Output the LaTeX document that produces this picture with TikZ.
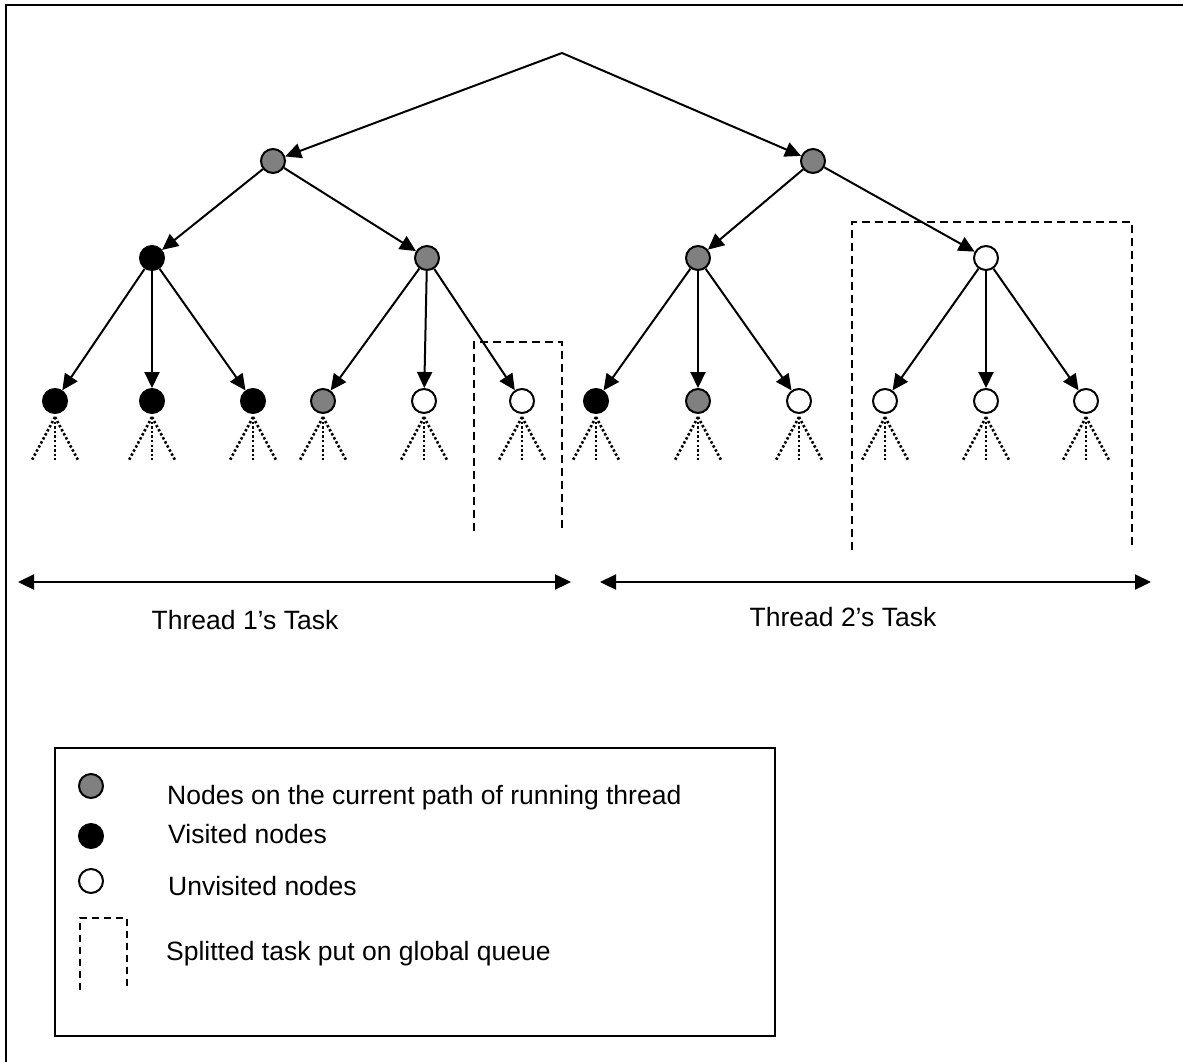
\documentclass[tikz,border=0pt]{standalone}
\usepackage{fontspec}
\setmainfont{Liberation Sans}
\usetikzlibrary{arrows.meta,calc}
\begin{document}
\begin{tikzpicture}[x=1pt,y=-1pt,
  tnode/.style={circle,draw=black,line width=2pt,minimum size=24pt,inner sep=0pt},
  cur/.style={tnode,fill=black!50},
  vis/.style={tnode,fill=black},
  unv/.style={tnode,fill=white},
  edge/.style={line width=2pt,-{Triangle[length=16pt,width=15pt]}},
  fan/.style={line width=2.6pt,dash pattern=on 2.4pt off 2.2pt},
  split/.style={line width=2pt,dash pattern=on 8pt off 5pt},
  span/.style={line width=2.2pt,{Triangle[length=16pt,width=15pt]}-{Triangle[length=16pt,width=15pt]}},
  lbl/.style={font=\fontsize{26.5}{30}\selectfont,inner sep=0pt}
]
\useasboundingbox (0,0) rectangle (1183,1061);

% outer frame (only top and left edges fall inside the page)
\draw[line width=2pt] (6,1070) -- (6,4.5) -- (1190,4.5);

% root of the search tree
\coordinate (root) at (562,53);

% level 1
\node[cur] (a) at (273,161) {};
\node[cur] (b) at (813,161) {};

% level 2
\node[vis] (a1) at (152,258) {};
\node[cur] (a2) at (427,258) {};
\node[cur] (b1) at (698,258) {};
\node[unv] (b2) at (986,258) {};

% level 3
\node[vis] (a11) at (55,401) {};
\node[vis] (a12) at (152,401) {};
\node[vis] (a13) at (253,401) {};
\node[cur] (a21) at (323,401) {};
\node[unv] (a22) at (424,401) {};
\node[unv] (a23) at (522,401) {};
\node[vis] (b11) at (596,401) {};
\node[cur] (b12) at (698,401) {};
\node[unv] (b13) at (799,401) {};
\node[unv] (b21) at (885,401) {};
\node[unv] (b22) at (986,401) {};
\node[unv] (b23) at (1086,401) {};

% tree edges
\draw[edge] (root) -- (a);
\draw[edge] (root) -- (b);
\draw[edge] (a) -- (a1);
\draw[edge] (a) -- (a2);
\draw[edge] (b) -- (b1);
\draw[edge] (b) -- (b2);
\foreach \p in {a1,a2,b1,b2}{
  \foreach \c in {1,2,3}{
    \draw[edge] (\p) -- (\p\c);
  }
}

% unexplored subtrees below the leaves
\foreach \n in {a11,a12,a13,a21,a22,a23,b11,b12,b13,b21,b22,b23}{
  \coordinate (\n-f) at ($(\n.south)+(0,3)$);
  \draw[fan] (\n-f) -- ($(\n-f)+(-23,43)$);
  \draw[fan] (\n-f) -- ($(\n-f)+(0,43)$);
  \draw[fan] (\n-f) -- ($(\n-f)+(23,43)$);
}

% split-off tasks
\draw[split] (474,531) -- (474,342) -- (562,342) -- (562,531);
\draw[split] (852,550) -- (852,222) -- (1132,222) -- (1132,550);

% task ranges of the two threads
\coordinate (t1l) at (18,582);
\coordinate (t1r) at (571,582);
\coordinate (t2l) at (600,582);
\coordinate (t2r) at (1151,582);
\draw[span] (t1l) -- (t1r);
\draw[span] (t2l) -- (t2r);
\node[lbl] (t1) at (245,620) {Thread 1’s Task};
\node[lbl] (t2) at (843,617) {Thread 2’s Task};

% legend
\draw[line width=2pt] (55,748) rectangle (775,1036);
\node[cur] (k1) at (91,786) {};
\node[vis] (k2) at (91,836) {};
\node[unv] (k3) at (91,881) {};
\draw[line width=1.5pt,dash pattern=on 7pt off 5pt] (80,990) -- (80,918) -- (127,918) -- (127,990);
\node[lbl,anchor=base west] (k1t) at (167,804) {Nodes on the current path of running thread};
\node[lbl,anchor=base west] (k2t) at (168,843) {Visited nodes};
\node[lbl,anchor=base west] (k3t) at (168,895) {Unvisited nodes};
\node[lbl,anchor=base west] (k4t) at (166,960) {Splitted task put on global queue};
\end{tikzpicture}
\end{document}
